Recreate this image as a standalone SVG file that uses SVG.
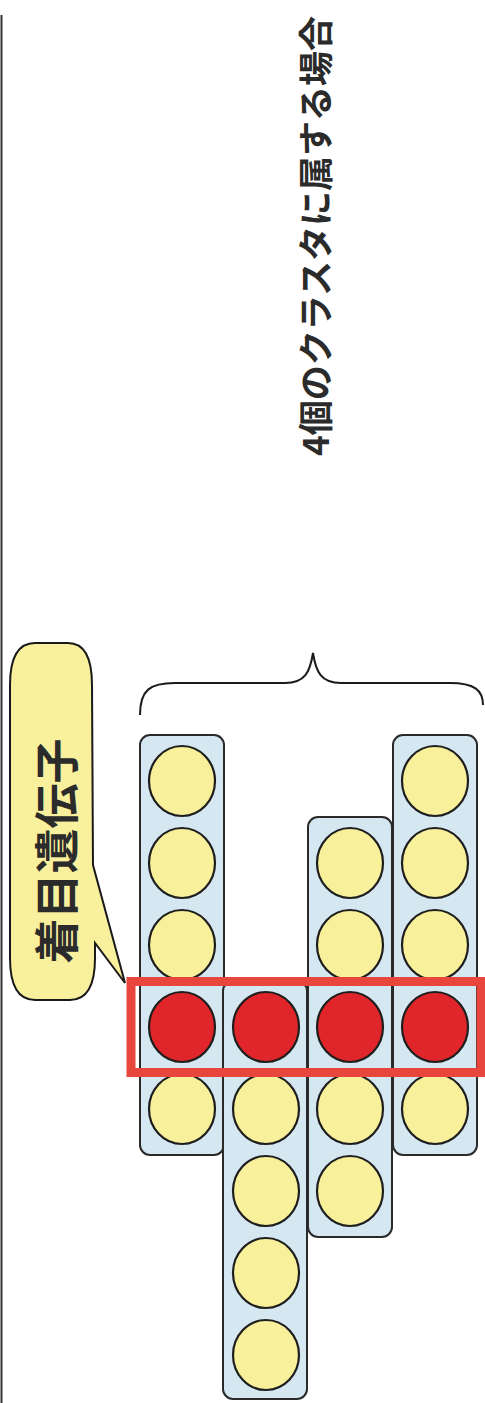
<svg xmlns="http://www.w3.org/2000/svg" width="485" height="1403" viewBox="0 0 485 1403">
<style>
.col{fill:#d5e7f1;stroke:#2a2a2a;stroke-width:2}
.y{fill:#f9f09c;stroke:#1e1e1e;stroke-width:2.2}
.r{fill:#e0262b;stroke:#1e1e1e;stroke-width:2.2}
.t{font-family:"Noto Sans CJK JP","Noto Sans CJK SC",sans-serif;font-weight:bold;fill:#2b2b2b}
</style>
<rect width="485" height="1403" fill="#ffffff"/>
<line x1="1.5" y1="15" x2="1.5" y2="1403" stroke="#333" stroke-width="2"/>
<g id="title">
<text class="t" font-size="35" text-anchor="middle" dominant-baseline="central" transform="translate(313,236) rotate(-90)">4個のクラスタに属する場合</text>
</g>
<g id="connectors">
<path d="M140,715 C140,690 150,683 175,683 L285,683 C305,683 310,672 313,653 C316,672 321,683 341,683 L450,683 C474,683 483,690 483,705" fill="none" stroke="#1a1a1a" stroke-width="2"/>
</g>
<g id="callout">
<path d="M35,643 L68,643 Q92,643 92,685 L93,865 L125,983 L95,943 L95,958 Q95,1000 70,1000 L35,1000 Q10,1000 10,958 L10,685 Q10,643 35,643 Z" fill="#f8f09c" stroke="#1a1a1a" stroke-width="2"/>
<text class="t" font-size="45" text-anchor="middle" dominant-baseline="central" transform="translate(54,851) rotate(-90)">着目遺伝子</text>
</g>
<g id="cluster1">
<rect class="col" x="140" y="735" width="84" height="420" rx="10"/>
<ellipse class="y" cx="182" cy="781" rx="33" ry="35"/>
<ellipse class="y" cx="182" cy="863" rx="33" ry="35"/>
<ellipse class="y" cx="182" cy="945" rx="33" ry="35"/>
<ellipse class="r" cx="182" cy="1027" rx="33" ry="35"/>
<ellipse class="y" cx="182" cy="1109" rx="33" ry="35"/>
</g>
<g id="cluster2">
<rect class="col" x="223" y="981" width="84" height="418" rx="10"/>
<ellipse class="r" cx="266" cy="1027" rx="33" ry="35"/>
<ellipse class="y" cx="266" cy="1109" rx="33" ry="35"/>
<ellipse class="y" cx="266" cy="1191" rx="33" ry="35"/>
<ellipse class="y" cx="266" cy="1273" rx="33" ry="35"/>
<ellipse class="y" cx="266" cy="1355" rx="33" ry="35"/>
</g>
<g id="cluster3">
<rect class="col" x="308" y="817" width="84" height="420" rx="10"/>
<ellipse class="y" cx="350" cy="863" rx="33" ry="35"/>
<ellipse class="y" cx="350" cy="945" rx="33" ry="35"/>
<ellipse class="r" cx="350" cy="1027" rx="33" ry="35"/>
<ellipse class="y" cx="350" cy="1109" rx="33" ry="35"/>
<ellipse class="y" cx="350" cy="1191" rx="33" ry="35"/>
</g>
<g id="cluster4">
<rect class="col" x="393" y="735" width="84" height="420" rx="10"/>
<ellipse class="y" cx="435" cy="781" rx="33" ry="35"/>
<ellipse class="y" cx="435" cy="863" rx="33" ry="35"/>
<ellipse class="y" cx="435" cy="945" rx="33" ry="35"/>
<ellipse class="r" cx="435" cy="1027" rx="33" ry="35"/>
<ellipse class="y" cx="435" cy="1109" rx="33" ry="35"/>
</g>
<g id="highlight">
<rect x="131" y="981.5" width="350" height="91" fill="none" stroke="#e8463c" stroke-width="9"/>
</g>
</svg>
